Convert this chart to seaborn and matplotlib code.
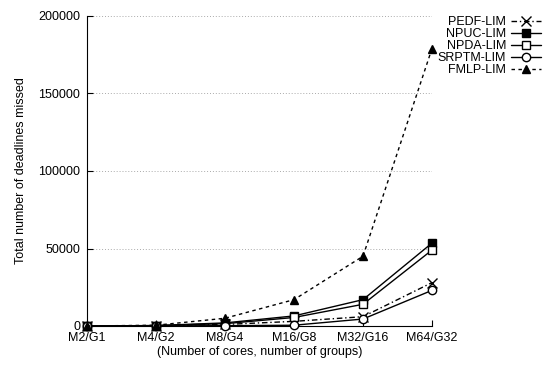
import matplotlib
matplotlib.use("Agg")
import matplotlib.pyplot as plt
import seaborn as sns
import pandas as pd

# Platform configurations (cores / groups)
configs = ["M2/G1", "M4/G2", "M8/G4", "M16/G8", "M32/G16", "M64/G32"]

# Total deadlines missed per protocol
pedf_lim = [0, 200, 1000, 3000, 6000, 28000]
npuc_lim = [0, 300, 2000, 6500, 17000, 53500]
npda_lim = [0, 250, 1500, 5500, 14000, 49000]
srptm_lim = [0, 100, 200, 500, 4500, 23000]
fmlp_lim = [0, 500, 5000, 17000, 45000, 179000]

series = {
    "PEDF-LIM": pedf_lim,
    "NPUC-LIM": npuc_lim,
    "NPDA-LIM": npda_lim,
    "SRPTM-LIM": srptm_lim,
    "FMLP-LIM": fmlp_lim,
}

styles = {
    "PEDF-LIM": dict(ls=(0, (4, 2, 1, 2)), marker="x", mfc="black", ms=6.5),
    "NPUC-LIM": dict(ls="-", marker="s", mfc="black", ms=6),
    "NPDA-LIM": dict(ls="-", marker="s", mfc="white", ms=6),
    "SRPTM-LIM": dict(ls="-", marker="o", mfc="white", ms=6),
    "FMLP-LIM": dict(ls=(0, (2.5, 2.5)), marker="^", mfc="black", ms=6),
}

FS = 9

sns.set_theme(style="white")
plt.rcParams["font.family"] = ["Liberation Sans", "DejaVu Sans"]

fig = plt.figure(figsize=(5.45, 3.65), dpi=100)
ax = fig.add_axes([87 / 545, 1 - 326 / 365, (432 - 87) / 545, (326 - 16) / 365])

rows = []
for name, vals in series.items():
    for c, v in zip(configs, vals):
        rows.append({"config": c, "missed": v, "protocol": name})
df = pd.DataFrame(rows)

for name in series:
    st = styles[name]
    sns.lineplot(
        data=df[df["protocol"] == name], x="config", y="missed", ax=ax,
        color="black", lw=1.0, linestyle=st["ls"], marker=st["marker"],
        markersize=st["ms"], markerfacecolor=st["mfc"], markeredgecolor="black",
        markeredgewidth=1.0, label=name, clip_on=False, zorder=3,
    )

ax.set_xlim(0, len(configs) - 1)
ax.set_ylim(0, 200000)
ax.set_yticks([0, 50000, 100000, 150000, 200000])
ax.set_xticks(range(len(configs)))
ax.set_xticklabels(configs)

ax.yaxis.grid(True, color="#aaaaaa", linestyle=(0, (1, 2)), lw=0.7)
ax.xaxis.grid(False)
for s in ["top", "right"]:
    ax.spines[s].set_visible(False)
for s in ["left", "bottom"]:
    ax.spines[s].set_color("black")
    ax.spines[s].set_linewidth(0.8)

ax.tick_params(axis="both", direction="in", length=4, width=0.8, color="black",
               labelsize=FS, labelcolor="black")
ax.tick_params(axis="x", bottom=True, pad=4.5)
ax.tick_params(axis="y", left=True, pad=5)

ax.set_xlabel("(Number of cores, number of groups)", fontsize=FS, color="black", labelpad=1.5)
ax.set_ylabel("Total number of deadlines missed", fontsize=FS, color="black", labelpad=8)

leg = ax.legend(loc="upper right", bbox_to_anchor=(541 / 545, 1 - 16 / 365),
                bbox_transform=fig.transFigure, frameon=False, markerfirst=False,
                fontsize=FS, handlelength=2.4, handletextpad=0.4,
                labelspacing=0.0, borderpad=0, borderaxespad=0)
for t in leg.get_texts():
    t.set_color("black")

fig.savefig("out.png", dpi=100)
